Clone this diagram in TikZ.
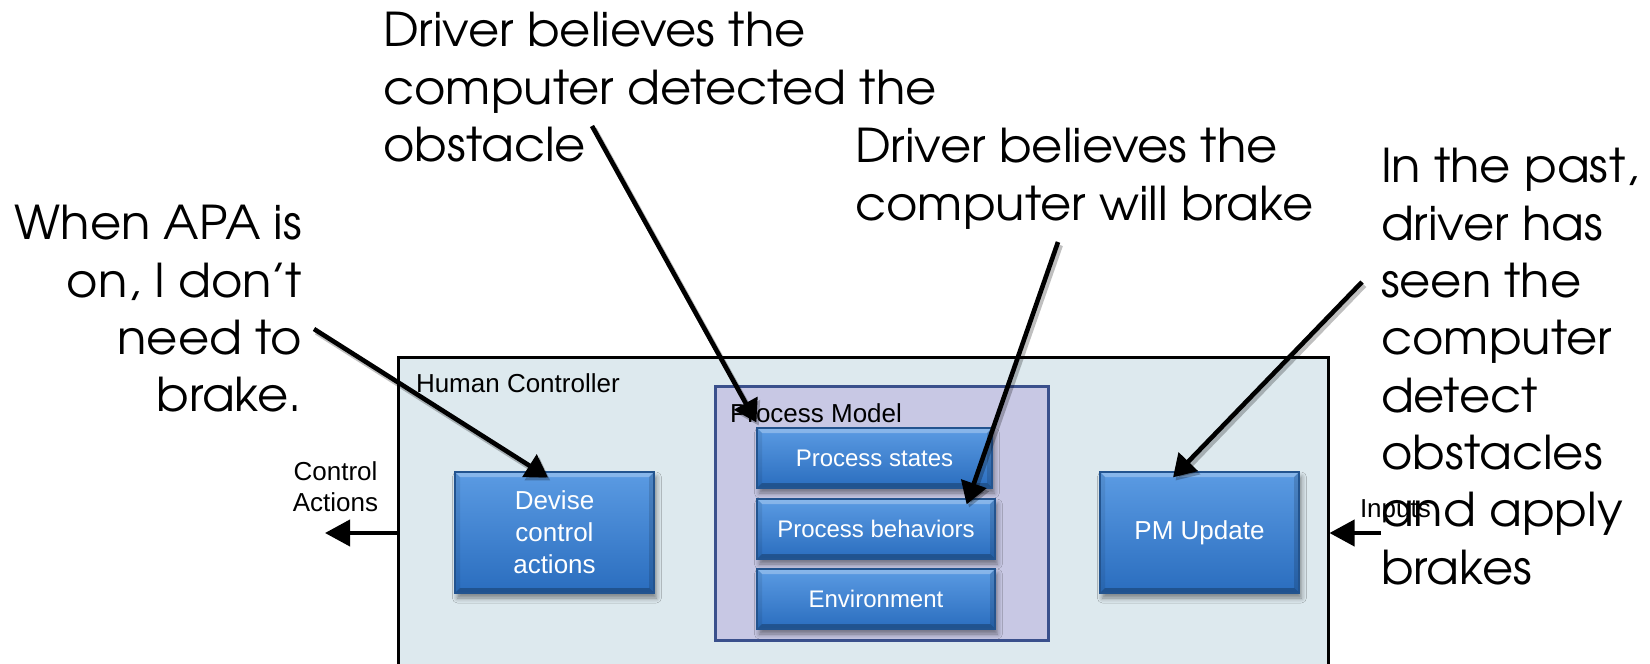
\documentclass[tikz,border=0pt]{standalone}
\usepackage{fontspec}
\setmainfont{Liberation Sans}
\newfontfamily\calloutfont[FakeStretch=1.03]{texgyreadventor-regular.otf}
\usetikzlibrary{arrows.meta,shadows.blur}

\definecolor{hcfill}{HTML}{DDE9EE}
\definecolor{pmfill}{HTML}{C8C8E4}
\definecolor{pmedge}{HTML}{3A508C}
\definecolor{blocktop}{HTML}{5B9BE3}
\definecolor{blockbot}{HTML}{2A6DBE}
\definecolor{blockedge}{HTML}{23548F}

\begin{document}
\begin{tikzpicture}[x=0.5pt,y=-0.5pt,
  labeltext/.style={font=\fontsize{13}{15.5}\selectfont, inner sep=0pt, outer sep=0pt},
  callout/.style={font=\calloutfont\fontsize{23.3}{28.65}\selectfont, inner sep=0pt, outer sep=0pt},
  frame/.style={draw=black, line width=1.5pt, fill=hcfill},
  modelframe/.style={draw=pmedge, line width=1.5pt, fill=pmfill},
  blockbox/.style={draw=blockedge, line width=0.6pt, top color=blocktop, bottom color=blockbot,
    text=white, font=\fontsize{13}{16}\selectfont, align=center, inner sep=0pt,
    blur shadow={shadow xshift=1.2pt, shadow yshift=-2.5pt, shadow blur radius=2.5pt, shadow opacity=45},
    path picture={
      \fill[white,opacity=.28] (path picture bounding box.north west) -- (path picture bounding box.north east)
        -- ([xshift=-2.5pt,yshift=-2.5pt]path picture bounding box.north east)
        -- ([xshift=2.5pt,yshift=-2.5pt]path picture bounding box.north west) -- cycle;
      \fill[black,opacity=.25] (path picture bounding box.south west) -- (path picture bounding box.south east)
        -- ([xshift=-2.5pt,yshift=2.5pt]path picture bounding box.south east)
        -- ([xshift=2.5pt,yshift=2.5pt]path picture bounding box.south west) -- cycle;
      \fill[black,opacity=.14] (path picture bounding box.north east) -- (path picture bounding box.south east)
        -- ([xshift=-2.5pt,yshift=2.5pt]path picture bounding box.south east)
        -- ([xshift=-2.5pt,yshift=-2.5pt]path picture bounding box.north east) -- cycle;
      \fill[black,opacity=.08] (path picture bounding box.north west) -- (path picture bounding box.south west)
        -- ([xshift=2.5pt,yshift=2.5pt]path picture bounding box.south west)
        -- ([xshift=2.5pt,yshift=-2.5pt]path picture bounding box.north west) -- cycle;
    }},
  modelblock/.style={blockbox, font=\fontsize{12}{14}\selectfont},
  flowarrow/.style={draw=black, line width=2pt, -{Triangle[length=12.5pt,width=13pt]}},
  notearrow/.style={draw=black, line width=2.3pt, -{Triangle[length=11pt,width=13pt]},
    preaction={draw=black, opacity=.25, line width=2.6pt, transform canvas={shift={(1.2pt,-1.6pt)}}}},
]
\useasboundingbox (0,0) rectangle (1650,664);
\clip (0,0) rectangle (1650,664);

% controller frame and the process model inside it
\node[frame, minimum width=465pt, minimum height=171.5pt] (hc) at (863,528.5) {};
\node[labeltext, anchor=base west] (hctitle) at (416,392) {Human Controller};
\node[modelframe, minimum width=166.5pt, minimum height=127pt] (pm) at (881.5,513) {};
\node[labeltext, anchor=base west] (pmtitle) at (730,422) {Process Model};

% blocks
\node[blockbox, minimum width=99.5pt, minimum height=60.5pt] (devise) at (554.5,532.5) {Devise\\control\\actions};
\node[modelblock, minimum width=117.5pt, minimum height=30pt] (pstates) at (874.5,458) {Process states};
\node[modelblock, minimum width=119pt, minimum height=30pt] (pbeh) at (876,529) {Process behaviors};
\node[modelblock, minimum width=119pt, minimum height=30pt] (penv) at (876,599) {Environment};
\node[blockbox, minimum width=99.5pt, minimum height=60.5pt] (pmupdate) at (1199.5,532.5) {PM Update};

% control actions out, inputs in
\node[labeltext, align=center, anchor=north] (ctrllabel) at (335.5,461.5) {Control\\Actions};
\coordinate (ctrltip) at (325,533);
\draw[flowarrow] (hc.west |- ctrltip) -- (ctrltip);
\coordinate (inputsrc) at (1381,533);
\draw[flowarrow] (inputsrc) -- (hc.east |- inputsrc);
\node[labeltext, anchor=base west] (inputslabel) at (1360,517) {Inputs};

% driver beliefs
\node[callout, align=left, anchor=north west] (noteA) at (383,12.5)
  {Driver believes the\\computer detected the\\obstacle};
\node[callout, align=left, anchor=north west] (noteB) at (855,128.5)
  {Driver believes the\\computer will brake};
\node[callout, align=right, anchor=north east] (noteC) at (302,205.5)
  {When APA is\\on, I don’t\\need to\\brake.};
\node[callout, align=left, anchor=north west] (noteD) at (1381,148.5)
  {In the past,\\driver has\\seen the\\computer\\detect\\obstacles\\and apply\\brakes};

\coordinate (noteAstart) at (592,126);
\coordinate (noteBstart) at (1058,242);
\coordinate (noteCstart) at (314,329);
\coordinate (noteDstart) at (1362,282);

\draw[notearrow] (noteAstart) -- ([yshift=2.5pt]pstates.north west);
\draw[notearrow] (noteBstart) -- ([xshift=-14.5pt,yshift=-3pt]pbeh.north east);
\draw[notearrow] (noteCstart) -- ([xshift=-3.25pt,yshift=-3pt]devise.north);
\draw[notearrow] (noteDstart) -- ([xshift=-13.25pt,yshift=-3pt]pmupdate.north);
\end{tikzpicture}
\end{document}
